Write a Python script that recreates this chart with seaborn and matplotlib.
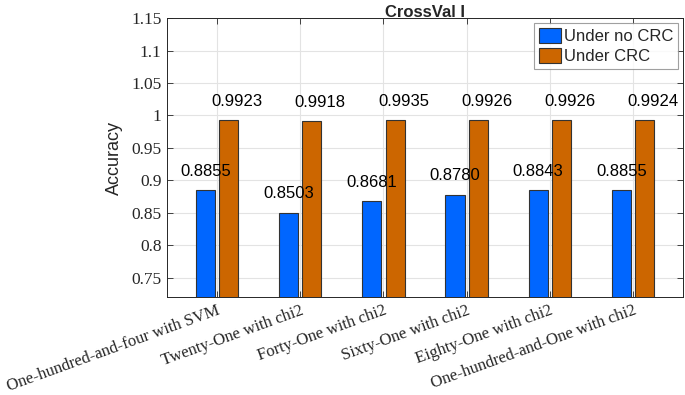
import matplotlib
matplotlib.use("Agg")
import matplotlib.pyplot as plt
import seaborn as sns
import pandas as pd

categories = ["One-hundred-and-four with SVM", "Twenty-One with chi2", "Forty-One with chi2",
              "Sixty-One with chi2", "Eighty-One with chi2", "One-hundred-and-One with chi2"]
under_no_crc = [0.8855, 0.8503, 0.8681, 0.8780, 0.8843, 0.8855]
under_crc = [0.9923, 0.9918, 0.9935, 0.9926, 0.9926, 0.9924]
series = ["Under no CRC", "Under CRC"]
yticks = [0.75, 0.8, 0.85, 0.9, 0.95, 1.0, 1.05, 1.1, 1.15]
ytick_labels = ["0.75", "0.8", "0.85", "0.9", "0.95", "1", "1.05", "1.1", "1.15"]

df = pd.DataFrame({
    "cat": categories * 2,
    "acc": under_no_crc + under_crc,
    "series": [series[0]] * len(categories) + [series[1]] * len(categories),
})

sns.set_style("white")
plt.rcParams['font.family'] = ['Liberation Sans', 'DejaVu Sans']

fig = plt.figure(figsize=(6.85, 3.95), dpi=100)
ax = fig.add_axes([0.244, 0.248, 0.753, 0.706])

palette = {series[0]: "#0066ff", series[1]: "#cc6600"}
sns.barplot(data=df, x="cat", y="acc", hue="series", hue_order=series, palette=palette,
            width=0.56, gap=0.18, edgecolor="#333333", linewidth=0.8, ax=ax,
            saturation=1, zorder=3)

ax.set_ylim(0.72, 1.15)
ax.set_xlim(-0.6, 5.6)
ax.set_yticks(yticks)
ax.set_yticklabels(ytick_labels, family=['Liberation Serif'], fontsize=12.5, color="#262626")
ax.set_xticks(range(len(categories)))
ax.set_xticklabels(categories, family=['Liberation Serif'], fontsize=12.1, rotation=20,
                   ha='right', va='top', rotation_mode='anchor', color="#262626")
ax.tick_params(axis='both', direction='in', length=4, width=0.6, color="#262626",
               top=True, right=True, bottom=True, left=True, pad=4)
ax.grid(True, color="#e3e3e3", linewidth=0.8, zorder=0)
ax.set_axisbelow(True)
for s in ax.spines.values():
    s.set_color("#262626")
    s.set_linewidth(0.7)

label_shift = [0.0, 0.1]
for cont, dx in zip(ax.containers, label_shift):
    for bar in cont:
        h = bar.get_height()
        ax.annotate(f"{h:.4f}", (bar.get_x() + bar.get_width() / 2 + dx, h),
                    xytext=(0, 8), textcoords="offset points", ha="center", va="bottom",
                    fontsize=12, color="black")

ax.set_xlabel("")
ax.set_ylabel("Accuracy", fontsize=13, color="#262626", labelpad=6)
ax.set_title("CrossVal I", fontsize=12, fontweight="bold", pad=1)

leg = ax.legend(loc="upper right", fontsize=12, frameon=True, fancybox=False,
                handlelength=1.3, handleheight=1.0, handletextpad=0.15, borderpad=0.3,
                labelspacing=0.2, borderaxespad=0.3)
leg.get_frame().set_edgecolor("#888888")
leg.get_frame().set_linewidth(0.8)

fig.savefig("out.png", dpi=100)
